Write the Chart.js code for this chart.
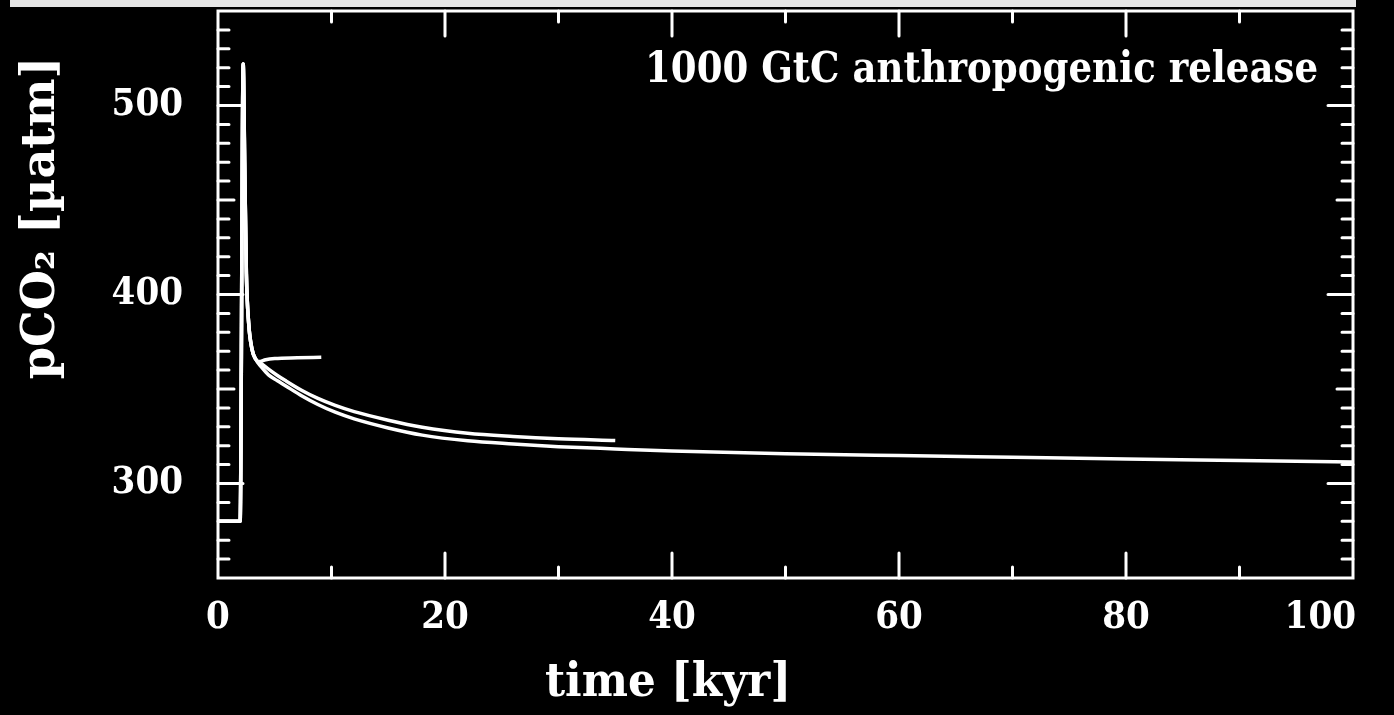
<!DOCTYPE html>
<html>
<head>
<meta charset="utf-8">
<script src="https://cdn.jsdelivr.net/npm/chart.js@4"></script>
<style>
  html, body { margin: 0; padding: 0; background: #000; }
  #wrap { width: 1394px; height: 715px; }
</style>
</head>
<body>
<div id="wrap"><canvas id="chart-pco2"></canvas></div>
<script>
// model runs after a 1000 GtC pulse: 100 kyr, 35 kyr and 9 kyr runs
const timeLong = [0, 1.95, 2.22, 2.35, 2.5, 2.7, 3.0, 3.3, 3.8, 4.45, 5.2, 5.9, 7.4, 8.8, 10.33, 12, 15, 18, 22, 26, 30, 35, 40, 50, 60, 70, 80, 90, 100];
const pco2Long = [280, 280, 522, 470, 411, 385, 371, 366, 361.8, 357.5, 354.5, 351.9, 346.3, 341.8, 337.7, 334.2, 329.4, 325.6, 322.6, 320.9, 319.5, 318.3, 317.2, 315.8, 314.8, 313.9, 313.0, 312.2, 311.4];

const timeMid = [0, 1.95, 2.22, 2.35, 2.5, 2.7, 3.0, 3.3, 3.8, 4.45, 5.2, 5.9, 7.4, 8.8, 10.33, 12, 15, 18, 22, 26, 30, 35];
const pco2Mid = [280, 280, 522, 470, 411, 385, 371, 366, 363.5, 360.5, 357.3, 354.6, 349.2, 345, 341.3, 338, 333.5, 329.8, 326.6, 324.9, 323.7, 322.8];

const timeShort = [0, 1.95, 2.22, 2.35, 2.5, 2.7, 3.0, 3.3, 3.6, 4.2, 5, 7, 9.1];
const pco2Short = [280, 280, 522, 470, 411, 385, 371, 366, 364.5, 365.5, 366.1, 366.5, 366.8];

const xTickLabels = [0, 20, 40, 60, 80, 100];
const yTickLabels = [300, 400, 500];

const toPoints = (ts, vs) => ts.map((t, i) => ({ x: t, y: vs[i] }));

const serif = '"DejaVu Serif", "Liberation Serif", serif';

function lineSet(ts, vs) {
  return {
    data: toPoints(ts, vs),
    borderColor: '#ffffff',
    borderWidth: 3.5,
    pointRadius: 0,
    cubicInterpolationMode: 'monotone',
    fill: false
  };
}

// text with a horizontal squeeze, anchored by textAlign at (x, y)
function squeezed(c, s, x, y, sx) {
  c.save();
  c.translate(x, y);
  c.scale(sx, 1);
  c.fillText(s, 0, 0);
  c.restore();
}

// frame, inward ticks on all four sides, labels and titles
const framePlugin = {
  id: 'idlFrame',
  beforeDraw(chart) {
    const c = chart.ctx;
    c.save();
    c.fillStyle = '#000';
    c.fillRect(0, 0, chart.width, chart.height);
    c.fillStyle = '#e6e6e6';
    c.fillRect(10, 0, 1346, 7);
    c.restore();
  },
  afterDatasetsDraw(chart) {
    const c = chart.ctx;
    const { left, right, top, bottom } = chart.chartArea;
    const xs = chart.scales.x, ys = chart.scales.y;
    c.save();
    c.strokeStyle = '#fff';
    c.lineWidth = 3;
    c.lineCap = 'round';
    c.strokeRect(left, top, right - left, bottom - top);

    c.beginPath();
    for (let v = 260; v < 550; v += 10) {
      const len = v % 100 === 0 ? 25 : v % 50 === 0 ? 16 : 11;
      const py = ys.getPixelForValue(v);
      c.moveTo(left, py); c.lineTo(left + len, py);
      c.moveTo(right, py); c.lineTo(right - len, py);
    }
    for (let v = 10; v < 100; v += 10) {
      const len = v % 20 === 0 ? 25 : 11;
      const px = xs.getPixelForValue(v);
      c.moveTo(px, bottom); c.lineTo(px, bottom - len);
      c.moveTo(px, top); c.lineTo(px, top + len);
    }
    c.stroke();

    c.fillStyle = '#fff';
    c.font = 'bold 38px ' + serif;
    c.textBaseline = 'middle';
    c.textAlign = 'right';
    yTickLabels.forEach(v => squeezed(c, String(v), 183, ys.getPixelForValue(v), 0.9));

    c.textAlign = 'center';
    xTickLabels.forEach(v => {
      const s = String(v);
      const w = c.measureText(s).width * 0.9;
      let px = xs.getPixelForValue(v);
      if (px + w / 2 > right + 3) px = right + 3 - w / 2;
      squeezed(c, s, px, 618, 0.9);
    });

    c.font = 'bold 47px ' + serif;
    squeezed(c, 'time [kyr]', 668, 684, 0.93);

    c.save();
    c.translate(42, 218);
    c.rotate(-Math.PI / 2);
    squeezed(c, 'pCO\u2082 [\u00b5atm]', 0, 0, 0.98);
    c.restore();

    // run label, squeezed to the caption width
    c.font = 'bold 42px ' + serif;
    const label = '1000 GtC anthropogenic release';
    const lw = c.measureText(label).width;
    c.textAlign = 'right';
    squeezed(c, label, 1318, 71, 673 / lw);

    c.restore();
  }
};

new Chart(document.getElementById('chart-pco2'), {
  type: 'line',
  data: {
    datasets: [
      lineSet(timeLong, pco2Long),
      lineSet(timeMid, pco2Mid),
      lineSet(timeShort, pco2Short)
    ]
  },
  options: {
    responsive: true,
    maintainAspectRatio: false,
    animation: false,
    layout: { padding: { left: 218, right: 41, top: 11, bottom: 137 } },
    plugins: { legend: { display: false }, tooltip: { enabled: false } },
    scales: {
      x: { type: 'linear', min: 0, max: 100, display: false },
      y: { type: 'linear', min: 250, max: 550, display: false }
    }
  },
  plugins: [framePlugin]
});
</script>
</body>
</html>
